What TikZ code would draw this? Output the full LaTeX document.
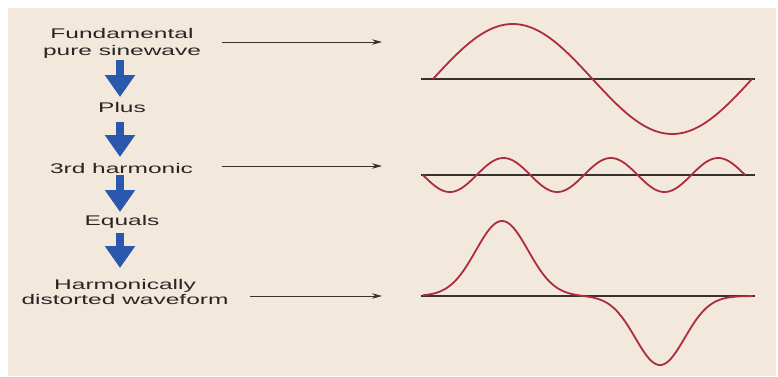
\documentclass[tikz,border=0pt]{standalone}
\usepackage{fontspec}
\newfontfamily\lab[FakeStretch=1.75]{Liberation Sans}
\usetikzlibrary{arrows.meta}
\definecolor{bg}{RGB}{243,232,220}
\definecolor{wave}{RGB}{172,45,60}
\definecolor{axisc}{RGB}{55,50,45}
\definecolor{flow}{RGB}{42,88,172}
\definecolor{txt}{RGB}{40,38,36}
\begin{document}
\begin{tikzpicture}[x=1pt,y=-1pt,
  lbl/.style={font=\lab\fontsize{14}{16.5}\selectfont, text=txt, inner sep=0pt, align=center},
  lbltight/.style={font=\lab\fontsize{14}{14.5}\selectfont, text=txt, inner sep=0pt, align=center},
  downarrow/.style={flow, line width=8pt, -{Triangle[width=29pt,length=22pt]}},
  pointer/.style={axisc, line width=0.8pt, -{Stealth[length=10pt,width=5.5pt]}},
  axisline/.style={axisc, line width=1.5pt},
  curve/.style={wave, line width=1.8pt, smooth}]
\useasboundingbox (0,0) rectangle (778,376);
\fill[bg] (8,8) rectangle (776,376);

% labels
\node[lbl] (fund) at (122,43.6) {Fundamental\\pure sinewave};
\node[lbl, anchor=base] (plus) at (122,112) {Plus};
\node[lbl, anchor=base] (third) at (121.5,173) {3rd harmonic};
\node[lbl, anchor=base] (equals) at (122,225) {Equals};
\node[lbltight] (harm) at (125,292.2) {Harmonically\\distorted waveform};

% blue flow arrows
\coordinate (d1a) at (120,60);  \coordinate (d1b) at (120,97);
\coordinate (d2a) at (120,122); \coordinate (d2b) at (120,157);
\coordinate (d3a) at (120,175); \coordinate (d3b) at (120,212);
\coordinate (d4a) at (120,233); \coordinate (d4b) at (120,268);
\draw[downarrow] (d1a) -- (d1b);
\draw[downarrow] (d2a) -- (d2b);
\draw[downarrow] (d3a) -- (d3b);
\draw[downarrow] (d4a) -- (d4b);

% pointers
\coordinate (p1a) at (222,42);  \coordinate (p1b) at (382,42);
\coordinate (p2a) at (222,166); \coordinate (p2b) at (382,166);
\coordinate (p3a) at (250,296); \coordinate (p3b) at (382,296);
\draw[pointer] (p1a) -- (p1b);
\draw[pointer] (p2a) -- (p2b);
\draw[pointer] (p3a) -- (p3b);

% axes
\draw[axisline] (421,79) -- (755,79);
\draw[axisline] (421,175) -- (755,175);
\draw[axisline] (421,296) -- (755,296);

% waves
\draw[curve] plot[domain=0:360,samples=121] ({433+\x/360*319},{79-55*sin(\x)});
\draw[curve] plot[domain=0:1080,samples=241] ({423+\x/1080*322},{175+17*sin(\x)});
\draw[curve] plot[domain=423:753,samples=221]
  (\x,{296-75*exp(-((\x-502)/37)*((\x-502)/37))+69*exp(-((\x-660)/35)*((\x-660)/35))});
\end{tikzpicture}
\end{document}
